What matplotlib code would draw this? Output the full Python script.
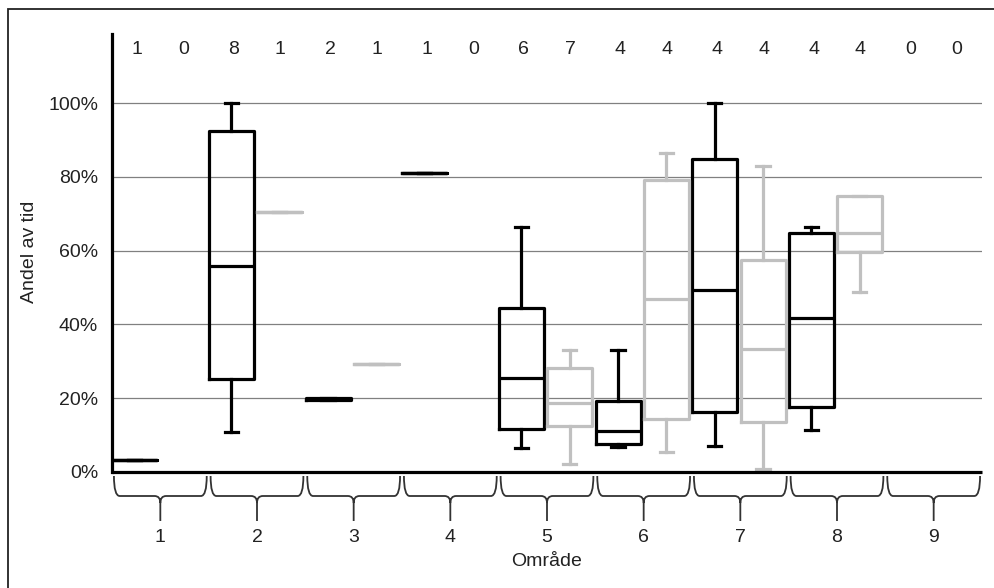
import numpy as np
import matplotlib
matplotlib.use("Agg")
import matplotlib.pyplot as plt
from matplotlib.path import Path
from matplotlib.patches import PathPatch, Rectangle
import matplotlib.transforms as mtransforms

plt.rcParams['font.family'] = ['Liberation Sans', 'DejaVu Sans']

nan = np.nan
areas = ["1", "2", "3", "4", "5", "6", "7", "8", "9"]

# black series (percent)
black_whislo = [3.3, 10.8, 19.6, 81.0, 6.6, 6.7, 7.1, 11.4, nan]
black_q1 = [3.3, 25.2, 19.6, 81.0, 11.7, 7.6, 16.2, 17.7, nan]
black_med = [3.3, 55.9, 19.8, 81.0, 25.4, 11.1, 49.3, 41.8, nan]
black_q3 = [3.3, 92.5, 20.0, 81.0, 44.4, 19.3, 84.7, 64.7, nan]
black_whishi = [3.3, 100.0, 20.0, 81.0, 66.3, 33.1, 100.0, 66.3, nan]
black_n = [1, 8, 2, 1, 6, 4, 4, 4, 0]

# gray series (percent)
gray_whislo = [nan, 70.5, 29.2, nan, 2.2, 5.3, 0.7, 48.7, nan]
gray_q1 = [nan, 70.5, 29.2, nan, 12.5, 14.3, 13.5, 59.7, nan]
gray_med = [nan, 70.5, 29.2, nan, 18.8, 46.8, 33.2, 64.9, nan]
gray_q3 = [nan, 70.5, 29.2, nan, 28.1, 79.1, 57.5, 74.8, nan]
gray_whishi = [nan, 70.5, 29.2, nan, 33.1, 86.5, 83.0, 74.8, nan]
gray_n = [0, 1, 1, 0, 7, 4, 4, 4, 0]

yticks = [0, 20, 40, 60, 80, 100]
ytick_labels = ["0%", "20%", "40%", "60%", "80%", "100%"]

W, H = 995, 588
fig = plt.figure(figsize=(W / 100, H / 100), dpi=100)
ax = fig.add_axes([112 / W, (H - 472) / H, (982 - 112) / W, (472 - 34) / H])

ng = len(areas)
ax.set_xlim(0, ng)
ax.set_ylim(0, 118.7)

for y in yticks[1:]:
    ax.axhline(y, color="#808080", lw=0.9, zorder=0)


def make_stats(lo, q1, med, q3, hi):
    out, pos = [], []
    for i in range(ng):
        if np.isnan(med[i]):
            continue
        out.append(dict(whislo=lo[i], q1=q1[i], med=med[i], q3=q3[i],
                        whishi=hi[i], fliers=[]))
        pos.append(i)
    return out, pos


bw = 0.465
for (lo, q1, med, q3, hi), off, col in [
        ((black_whislo, black_q1, black_med, black_q3, black_whishi), 0.235, "black"),
        ((gray_whislo, gray_q1, gray_med, gray_q3, gray_whishi), 0.735, "#c0c0c0")]:
    stats, pos = make_stats(lo, q1, med, q3, hi)
    lp = dict(color=col, lw=2.3)
    ax.bxp(stats, positions=[p + off for p in pos], widths=bw,
           showfliers=False, boxprops=lp, whiskerprops=lp, capprops=lp,
           medianprops=lp, capwidths=0.14, manage_ticks=False)

for i in range(ng):
    ax.text(i + 0.26, 114.4, str(black_n[i]), ha="center", va="center",
            fontsize=14, color="#222222")
    ax.text(i + 0.74, 114.4, str(gray_n[i]), ha="center", va="center",
            fontsize=14, color="#222222")

ax.set_xticks([])
ax.set_yticks(yticks)
ax.set_yticklabels(ytick_labels, fontsize=14, color="#222222")
ax.tick_params(axis="y", length=0, pad=10)
for s in ["top", "right"]:
    ax.spines[s].set_visible(False)
ax.spines["left"].set_linewidth(2.3)
ax.spines["bottom"].set_linewidth(2.3)
ax.spines["bottom"].set_capstyle("butt")

# braces under each area
tr = mtransforms.blended_transform_factory(ax.transData, fig.transFigure)


def fy(py):
    return 1 - py / H


yt, yh, ytip = fy(476), fy(496), fy(521)
r = 0.06
for i in range(ng):
    x0, x1 = i + 0.02, i + 0.98
    xm = (x0 + x1) / 2
    yd = fy(503)
    verts = [(x0, yt), (x0, yh), (x0 + r, yh),
             (xm - r, yh),
             (xm, yh), (xm, yd),
             (xm, ytip),
             (xm, yd),
             (xm, yh), (xm + r, yh),
             (x1 - r, yh),
             (x1, yh), (x1, yt)]
    codes = [Path.MOVETO, Path.CURVE3, Path.CURVE3,
             Path.LINETO,
             Path.CURVE3, Path.CURVE3,
             Path.LINETO,
             Path.MOVETO,
             Path.CURVE3, Path.CURVE3,
             Path.LINETO,
             Path.CURVE3, Path.CURVE3]
    fig.add_artist(PathPatch(Path(verts, codes), transform=tr, fill=False,
                             lw=1.3, edgecolor="#333333", clip_on=False))
    fig.text(xm, 0, "", transform=tr)
    ax.text(xm, fy(537), areas[i], transform=tr, ha="center", va="center",
            fontsize=14, color="#222222")

fig.text(547 / W, fy(562), "Område", ha="center", va="center",
         fontsize=14, color="#222222")
fig.text(30 / W, fy(252), "Andel av tid", ha="center", va="center",
         rotation=90, fontsize=14, color="#222222")

# outer frame
fig.add_artist(Rectangle((8 / W, -0.1), 1.1, fy(9) + 0.1, transform=fig.transFigure,
                         fill=False, edgecolor="#222222", lw=1.3))

fig.savefig("out.png", dpi=100)
